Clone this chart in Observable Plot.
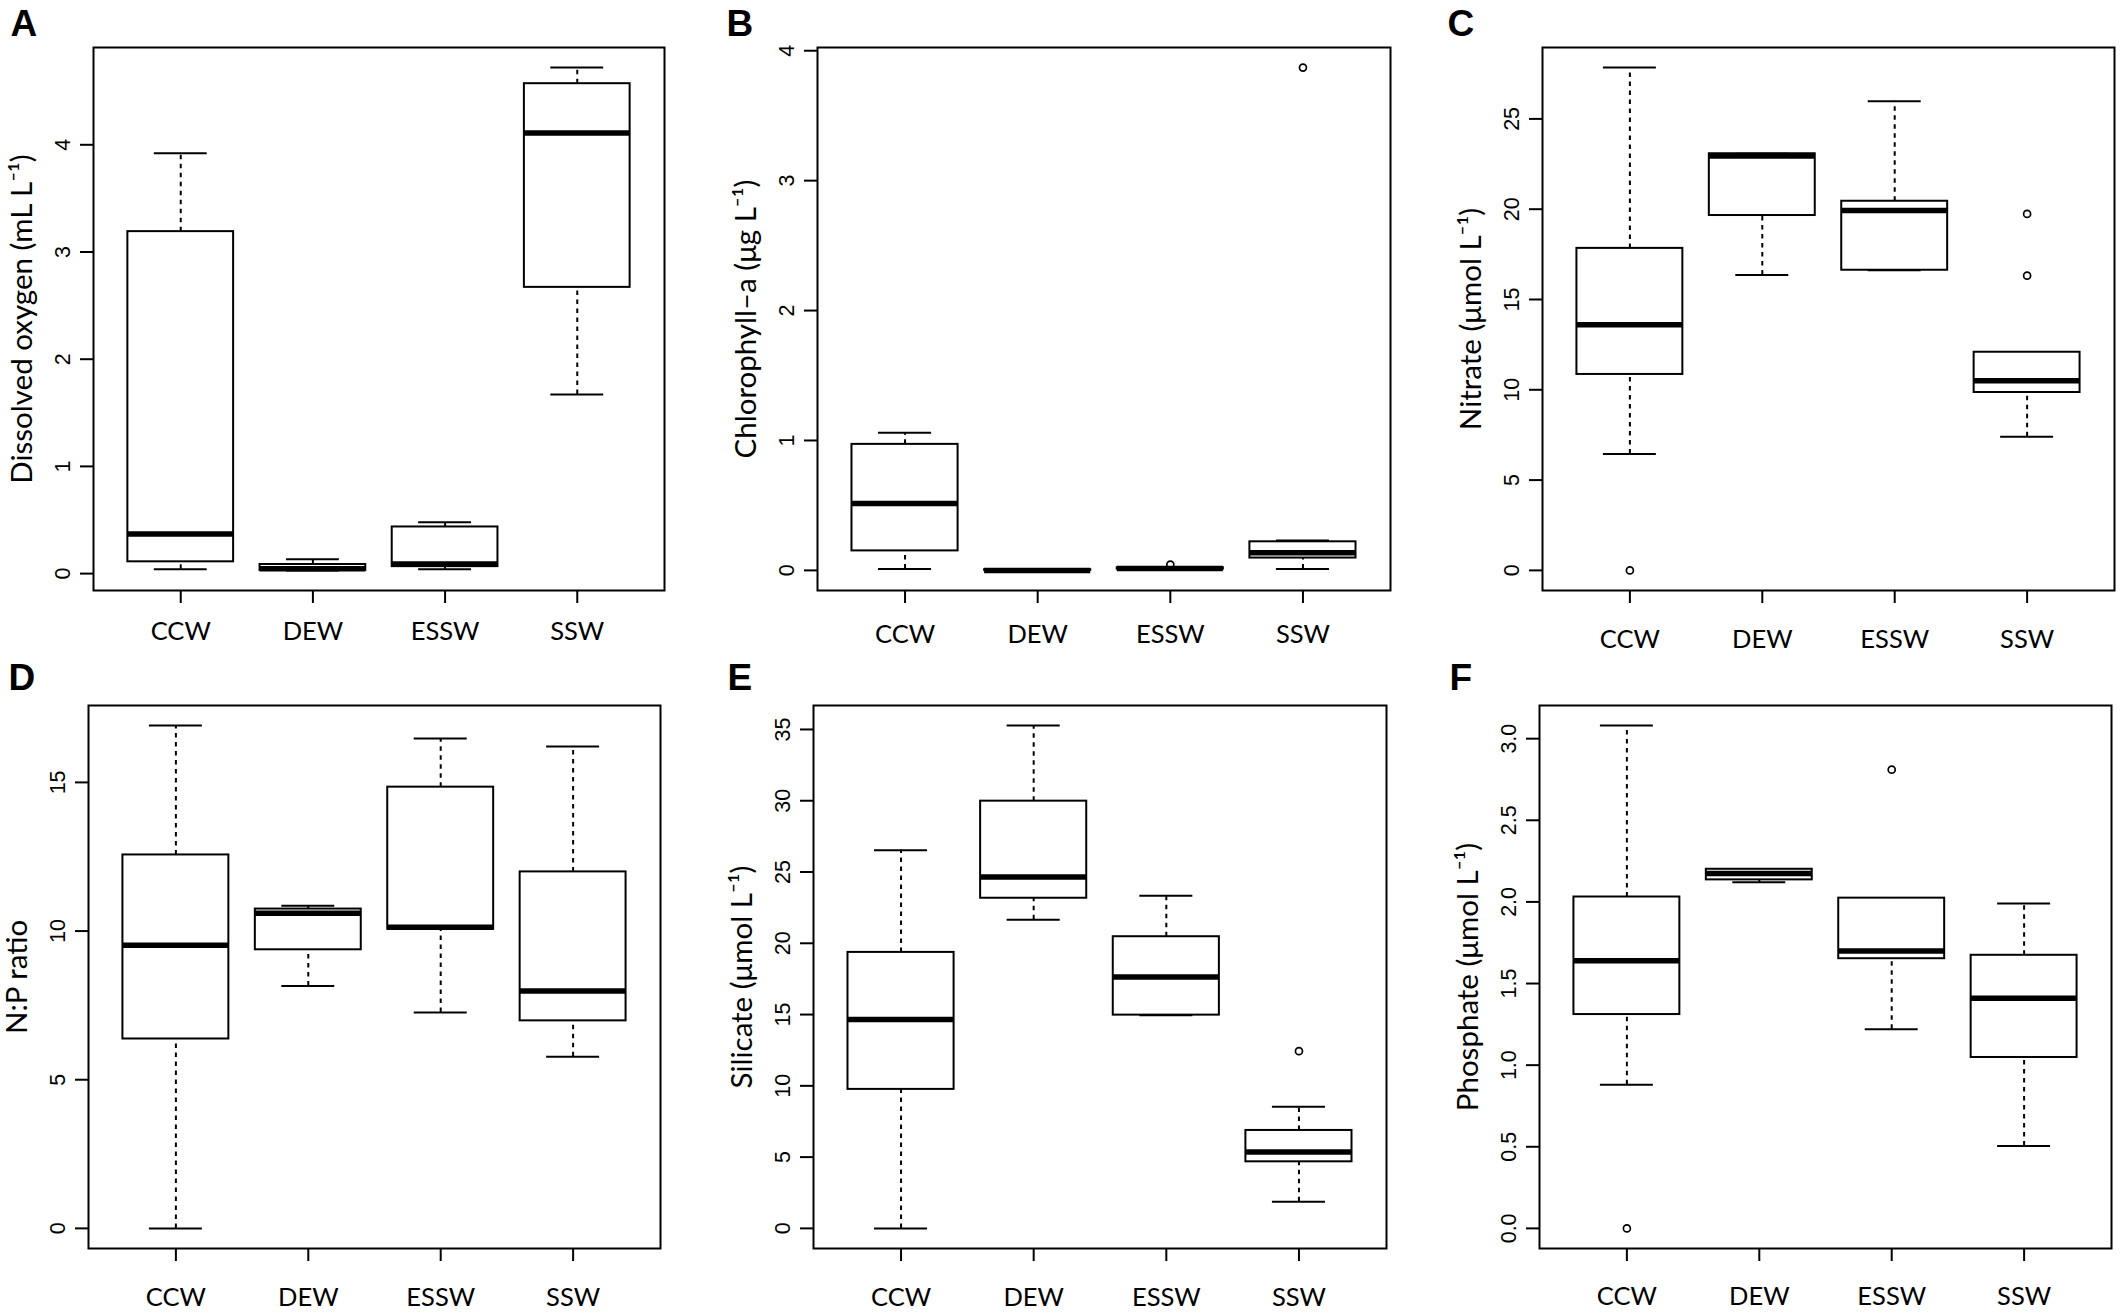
<!DOCTYPE html>
<html>
<head>
<meta charset="utf-8">
<script src="https://cdn.jsdelivr.net/npm/d3@7"></script>
<script src="https://cdn.jsdelivr.net/npm/@observablehq/plot@0.6"></script>
<style>
  body { margin: 0; background: white; }
  #fig { position: relative; width: 2122px; height: 1315px; background: white; }
  #fig svg { position: absolute; }
</style>
</head>
<body>
<div id="fig"></div>
<script>
// ---------- data (each stats row: [lower whisker, Q1, median, Q3, upper whisker]) ----------
const categories = ["CCW", "DEW", "ESSW", "SSW"];

const oxygenStats = [
  [0.04, 0.11, 0.37, 3.19, 3.92],
  [0.03, 0.03, 0.045, 0.085, 0.135],
  [0.04, 0.065, 0.09, 0.435, 0.48],
  [1.67, 2.67, 4.11, 4.57, 4.72]
];
const oxygenOutliers = [];

const chlStats = [
  [0.01, 0.15, 0.515, 0.97, 1.06],
  [0.0, 0.0, 0.0, 0.005, 0.01],
  [0.005, 0.01, 0.015, 0.02, 0.025],
  [0.01, 0.095, 0.135, 0.22, 0.23]
];
const chlOutliers = [["ESSW", 0.045], ["SSW", 3.87]];

const nitrateStats = [
  [6.45, 10.85, 13.6, 17.83, 27.84],
  [16.36, 19.65, 22.95, 23.07, 23.07],
  [16.62, 16.62, 19.93, 20.44, 25.98],
  [7.4, 9.85, 10.5, 12.08, 12.08]
];
const nitrateOutliers = [["CCW", 0], ["SSW", 19.74], ["SSW", 16.32]];

const npStats = [
  [0, 6.37, 9.52, 12.56, 16.91],
  [8.15, 9.37, 10.6, 10.74, 10.85],
  [7.26, 10.06, 10.13, 14.84, 16.48],
  [5.77, 6.98, 7.98, 11.99, 16.21]
];
const npOutliers = [];

const silicateStats = [
  [0, 9.75, 14.66, 19.36, 26.52],
  [21.65, 23.16, 24.65, 29.97, 35.27],
  [14.96, 14.96, 17.63, 20.46, 23.34],
  [1.87, 4.67, 5.35, 6.87, 8.53]
];
const silicateOutliers = [["SSW", 12.43]];

const phosphateStats = [
  [0.88, 1.31, 1.64, 2.03, 3.08],
  [2.12, 2.135, 2.174, 2.2, 2.2],
  [1.22, 1.652, 1.70, 2.023, 2.023],
  [0.504, 1.047, 1.41, 1.673, 1.99]
];
const phosphateOutliers = [["CCW", 0], ["ESSW", 2.81]];

const oxygenTicks = [0, 1, 2, 3, 4];
const chlTicks = [0, 1, 2, 3, 4];
const nitrateTicks = [0, 5, 10, 15, 20, 25];
const npTicks = [0, 5, 10, 15];
const silicateTicks = [0, 5, 10, 15, 20, 25, 30, 35];
const phosphateTicks = [0, 0.5, 1, 1.5, 2, 2.5, 3];

const panelLetters = ["A", "B", "C", "D", "E", "F"];
const panelTitles = [
  "Dissolved oxygen (mL L\u207B\u00B9)",
  "Chlorophyll\u2013a (\u03BCg L\u207B\u00B9)",
  "Nitrate (\u03BCmol L\u207B\u00B9)",
  "N:P ratio",
  "Silicate (\u03BCmol L\u207B\u00B9)",
  "Phosphate (\u03BCmol L\u207B\u00B9)"
];

// ---------- layout (page pixel coordinates) ----------
const panels = [
  {stats: oxygenStats, outliers: oxygenOutliers, ticks: oxygenTicks, fmt: d => d,
   svg: [0, 0, 707, 655], frame: [93, 47, 664, 590], letter: [10, 35], xOff: 40},
  {stats: chlStats, outliers: chlOutliers, ticks: chlTicks, fmt: d => d,
   svg: [707, 0, 707, 655], frame: [817, 47, 1390, 590], letter: [726, 35], xOff: 43},
  {stats: nitrateStats, outliers: nitrateOutliers, ticks: nitrateTicks, fmt: d => d,
   svg: [1414, 0, 708, 655], frame: [1542, 47, 2114, 590], letter: [1447, 35], xOff: 48},
  {stats: npStats, outliers: npOutliers, ticks: npTicks, fmt: d => d,
   svg: [0, 655, 707, 660], frame: [88, 705, 660, 1248], letter: [8, 689], xOff: 48},
  {stats: silicateStats, outliers: silicateOutliers, ticks: silicateTicks, fmt: d => d,
   svg: [707, 655, 707, 660], frame: [813, 705, 1386, 1248], letter: [727, 689], xOff: 48},
  {stats: phosphateStats, outliers: phosphateOutliers, ticks: phosphateTicks, fmt: d => d.toFixed(1),
   svg: [1414, 655, 708, 660], frame: [1539, 705, 2111, 1248], letter: [1449, 689], xOff: 47}
];

const fig = document.getElementById("fig");

panels.forEach((p, k) => {
  const rows = p.stats.map((s, i) => ({
    cat: categories[i], pos: i + 1, lo: s[0], q1: s[1], med: s[2], q3: s[3], hi: s[4]
  }));
  const outs = p.outliers.map(([c, v]) => ({pos: categories.indexOf(c) + 1, v}));
  const all = rows.flatMap(r => [r.lo, r.hi]).concat(outs.map(o => o.v));
  const mn = d3.min(all), mx = d3.max(all), ext = (mx - mn) * 0.04;

  const [sx, sy, sw, sh] = p.svg;
  const [fl, ft, fr, fb] = p.frame;
  const mL = fl - sx, mT = ft - sy, mR = sx + sw - fr, mB = sy + sh - fb;

  const chart = Plot.plot({
    width: sw, height: sh,
    marginLeft: mL, marginTop: mT, marginRight: mR, marginBottom: mB,
    style: {background: "transparent", overflow: "visible"},
    x: {domain: [0.34, 4.66]},
    y: {domain: [mn - ext, mx + ext]},
    marks: [
      // whiskers (dashed)
      Plot.ruleX(rows, {x: "pos", y1: "q3", y2: "hi", stroke: "black", strokeWidth: 2, strokeDasharray: "4.5,4.5"}),
      Plot.ruleX(rows, {x: "pos", y1: "lo", y2: "q1", stroke: "black", strokeWidth: 2, strokeDasharray: "4.5,4.5"}),
      // staples
      Plot.ruleY(rows, {y: "hi", x1: d => d.pos - 0.2, x2: d => d.pos + 0.2, stroke: "black", strokeWidth: 2}),
      Plot.ruleY(rows, {y: "lo", x1: d => d.pos - 0.2, x2: d => d.pos + 0.2, stroke: "black", strokeWidth: 2}),
      // boxes
      Plot.rect(rows, {x1: d => d.pos - 0.4, x2: d => d.pos + 0.4, y1: "q1", y2: "q3", fill: "white", stroke: "black", strokeWidth: 2}),
      // medians
      Plot.ruleY(rows, {y: "med", x1: d => d.pos - 0.4, x2: d => d.pos + 0.4, stroke: "black", strokeWidth: 5.5}),
      // outliers
      Plot.dot(outs, {x: "pos", y: "v", r: 3.5, stroke: "black", strokeWidth: 1.7, fill: "none"}),
      // frame
      Plot.frame({stroke: "black", strokeWidth: 2}),
      // axes
      Plot.axisX({
        ticks: [1, 2, 3, 4], tickFormat: d => categories[d - 1],
        tickSize: 13, tickPadding: p.xOff - 22, strokeWidth: 2,
        fontFamily: "Lato", fontSize: 25.5, fill: "black", label: null
      }),
      Plot.axisY({
        ticks: p.ticks, tickFormat: p.fmt,
        tickSize: 13, tickPadding: 11, strokeWidth: 2, tickRotate: -90,
        textAnchor: "middle", lineAnchor: "bottom",
        fontFamily: "Liberation Sans", fontSize: 21.5, fill: "black", label: null
      }),
      // y-axis title
      Plot.text([panelTitles[k]], {
        text: d => d, frameAnchor: "left", dx: -71, rotate: -90,
        textAnchor: "middle", lineAnchor: "middle",
        fontFamily: "Lato", fontSize: 29.5, fill: "black"
      }),
      // panel letter
      Plot.text([panelLetters[k]], {
        text: d => d, frameAnchor: "top-left",
        dx: p.letter[0] - fl, dy: p.letter[1] - ft,
        textAnchor: "start", lineAnchor: "bottom",
        fontFamily: "Liberation Sans", fontWeight: "bold", fontSize: 37, fill: "black"
      })
    ]
  });
  chart.style.left = sx + "px";
  chart.style.top = sy + "px";
  fig.appendChild(chart);
});
</script>
</body>
</html>
